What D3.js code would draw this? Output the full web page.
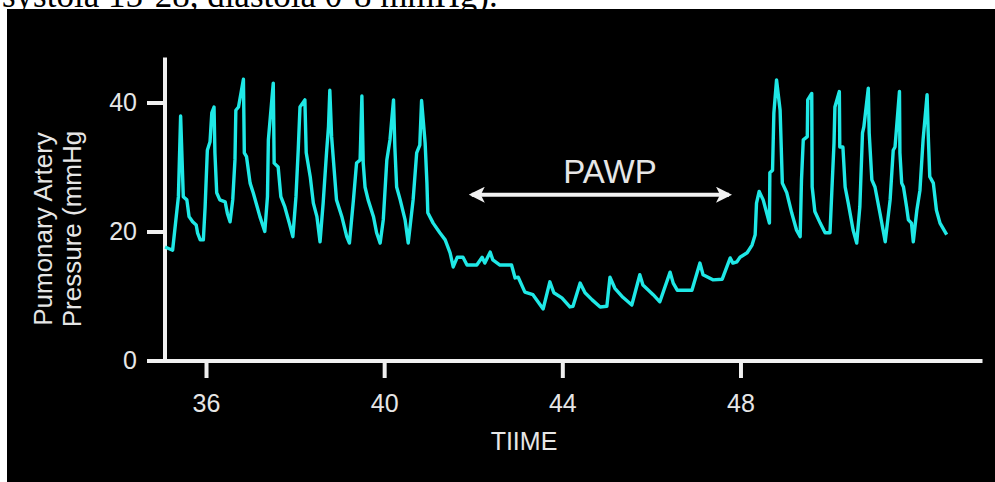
<!DOCTYPE html>
<html>
  <head>
    <meta charset="utf-8">
    <title>Pulmonary artery pressure</title>
    <script src="https://d3js.org/d3.v7.min.js"></script>
    <style>
      body { margin: 0; background: #fff; }
      svg { display: block; }
      .lbl { font-family: "Liberation Sans", Arial, sans-serif; fill: #e6e6e6; }
      .caption { font-family: "Liberation Serif", "Times New Roman", serif; fill: #000; }
      .axis path, .axis line { stroke: #f0f0f0; stroke-width: 4; }
      .axis text { font-family: "Liberation Sans", Arial, sans-serif; fill: #e6e6e6; font-size: 25px; }
    </style>
  </head>
  <body>
    <svg id="chart" width="995" height="482"></svg>
    <script>
      // trace (time, mmHg)
      time = [35.08, 35.25, 35.38, 35.43, 35.49, 35.57, 35.62, 35.70, 35.78, 35.81, 35.87, 35.94,
        35.98, 36.03, 36.09, 36.13, 36.18, 36.20, 36.24, 36.31, 36.43, 36.48, 36.54,
        36.60, 36.65, 36.67, 36.73, 36.84, 36.86, 36.91, 36.99, 37.06, 37.15, 37.21, 37.32,
        37.38, 37.40, 37.51, 37.53, 37.62, 37.68, 37.77, 37.87, 37.95,
        38.02, 38.07, 38.11, 38.22, 38.25, 38.34, 38.41, 38.49, 38.56,
        38.63, 38.71, 38.75, 38.78, 38.82, 38.86, 38.93, 39.05, 39.16, 39.22,
        39.31, 39.38, 39.46, 39.50, 39.53, 39.57, 39.64, 39.76, 39.83, 39.91,
        39.98, 40.06, 40.13, 40.21, 40.24, 40.28, 40.36, 40.47, 40.54,
        40.65, 40.73, 40.80, 40.84, 40.92, 40.96, 40.98, 41.10, 41.25, 41.37, 41.48,
        41.55, 41.64, 41.77, 41.86, 42.08, 42.20, 42.26, 42.38, 42.44, 42.60, 42.86,
        42.94, 43.01, 43.16, 43.34, 43.57, 43.72, 43.81, 43.99, 44.17, 44.24,
        44.40, 44.51, 44.67, 44.85, 45.00, 45.07, 45.18, 45.36, 45.56,
        45.74, 45.81, 46.04, 46.19, 46.42, 46.49, 46.58, 46.91, 47.09, 47.16, 47.38, 47.59,
        47.77, 47.83, 47.92, 47.99, 48.15, 48.26, 48.33, 48.36, 48.42, 48.51, 48.65,
        48.66, 48.72, 48.75, 48.81, 48.89, 48.94, 49.04, 49.15, 49.26, 49.34,
        49.37, 49.41, 49.50, 49.51, 49.60, 49.61, 49.67, 49.79, 49.90, 50.01,
        50.05, 50.10, 50.12, 50.22, 50.23, 50.30, 50.35, 50.42, 50.53, 50.61,
        50.68, 50.74, 50.77, 50.87, 50.89, 50.95, 51.02, 51.13, 51.25,
        51.36, 51.43, 51.47, 51.57, 51.58, 51.62, 51.66, 51.73, 51.77, 51.84, 51.88,
        51.96, 52.03, 52.10, 52.19, 52.22, 52.25, 52.33, 52.40, 52.48, 52.63];
      pressure = [17.6, 17.1, 25.4, 37.9, 25.4, 24.9, 22.3, 21.5, 21.0, 19.8, 18.7, 18.7,
        23.8, 32.6, 33.9, 38.4, 39.3, 32.2, 26.0, 24.9, 24.6, 22.8, 21.5,
        24.9, 31.1, 38.8, 39.3, 43.6, 32.2, 31.6, 27.5, 26.0, 23.8, 22.3, 20.0,
        25.4, 34.2, 43.0, 30.6, 30.0, 25.4, 23.8, 21.3, 19.2,
        25.4, 32.6, 39.3, 40.4, 32.2, 28.5, 24.4, 22.3, 18.4,
        24.4, 32.6, 36.2, 41.9, 34.7, 31.1, 24.9, 22.3, 19.2, 18.2,
        24.9, 30.6, 31.1, 41.0, 30.6, 26.9, 24.9, 22.3, 19.8, 18.2,
        21.8, 31.1, 34.2, 40.4, 33.1, 26.9, 24.9, 21.8, 18.2,
        24.9, 32.2, 33.4, 40.3, 33.7, 27.5, 22.9, 21.3, 19.8, 18.7, 16.7,
        14.5, 16.0, 16.0, 14.8, 14.8, 16.0, 15.1, 16.8, 15.6, 14.8, 14.8,
        12.8, 12.9, 10.6, 10.2, 8.0, 12.2, 10.5, 9.7, 8.3, 8.4,
        12.0, 10.5, 9.4, 8.3, 8.4, 12.9, 11.2, 9.8, 8.6,
        13.3, 11.7, 10.2, 9.1, 13.7, 12.0, 10.9, 10.9, 15.1, 13.3, 12.5, 12.6,
        15.9, 15.1, 15.3, 16.0, 16.7, 17.9, 19.5, 24.4, 26.2, 24.9, 21.3,
        29.1, 29.5, 38.4, 43.5, 38.8, 27.5, 26.0, 22.9, 20.2, 19.2,
        28.0, 34.2, 34.7, 40.4, 41.4, 26.9, 23.1, 21.3, 19.8, 19.8,
        26.0, 33.7, 39.3, 41.7, 33.1, 33.1, 26.9, 24.4, 20.2, 18.2,
        23.8, 35.3, 36.2, 42.2, 35.3, 28.0, 26.9, 22.9, 18.4,
        24.9, 32.6, 33.1, 41.7, 32.2, 27.5, 26.9, 23.8, 21.8, 21.3, 18.4,
        23.3, 26.4, 34.2, 41.2, 34.2, 28.5, 27.5, 23.3, 21.3, 19.5];
      xTicks = [36, 40, 44, 48];
      yTicks = [0, 20, 40];
      yTitle = ["Pumonary Artery", "Pressure (mmHg"];
      xTitle = "TIIME";
      pawpLabel = "PAWP";
      pawpSpan = [41.9, 47.81];
      pawpLevel = 25.7;
      caption = "systola 15-28, diastola 0-8 mmHg).";

      svg = d3.select("#chart");
      // page caption cut off at the top, then the black panel
      svg.append("text")
        .classed("caption", true)
        .attr("x", 2)
        .attr("y", 6.5)
        .style("font-size", "35px")
        .text(caption);
      svg.append("rect")
        .attr("x", 7)
        .attr("y", 9)
        .attr("width", 988)
        .attr("height", 473)
        .attr("fill", "#000");

      x = d3.scaleLinear()
        .domain([35.068, 53.378])
        .range([164.5, 980]);
      y = d3.scaleLinear()
        .domain([0, 46.74])
        .range([360.5, 59]);

      xAxis = svg.append("g")
        .classed("axis", true)
        .attr("transform", "translate(0," + y(0) + ")")
        .call(d3.axisBottom(x).tickValues(xTicks).tickSize(17.5).tickSizeOuter(0).tickPadding(16));
      yAxis = svg.append("g")
        .classed("axis", true)
        .attr("transform", "translate(" + x.range()[0] + ",0)")
        .call(d3.axisLeft(y).tickValues(yTicks).tickSize(17.5).tickSizeOuter(0).tickPadding(10));
      svg.selectAll(".axis path").attr("stroke-linecap", "square");

      // axis titles
      yLabel = svg.append("text")
        .classed("lbl", true)
        .attr("transform", "translate(52,229) rotate(-90)")
        .attr("text-anchor", "middle")
        .style("font-size", "26px");
      yLabel.selectAll("tspan")
        .data(yTitle)
        .enter().append("tspan")
          .attr("x", 0)
          .attr("dy", function(d, i) { return i ? 29 : 0; })
          .text(function(d) { return d; });
      svg.append("text")
        .classed("lbl", true)
        .attr("x", 524)
        .attr("y", 450)
        .attr("text-anchor", "middle")
        .style("font-size", "25px")
        .text(xTitle);

      // pressure trace
      points = time.map(function(t, i) { return [t, pressure[i]]; });
      line = d3.line()
        .x(function(d) { return x(d[0]); })
        .y(function(d) { return y(d[1]); });
      svg.append("path")
        .datum(points)
        .attr("d", line)
        .attr("fill", "none")
        .attr("stroke", "#1fe8e6")
        .attr("stroke-width", 3.4)
        .attr("stroke-linejoin", "round");

      // wedge pressure annotation
      defs = svg.append("defs");
      defs.append("marker")
        .attr("id", "head")
        .attr("viewBox", "0 0 16 16")
        .attr("refX", 13)
        .attr("refY", 8)
        .attr("markerUnits", "userSpaceOnUse")
        .attr("markerWidth", 16)
        .attr("markerHeight", 16)
        .attr("orient", "auto-start-reverse")
        .append("path")
          .attr("d", "M0,0 L16,8 L0,16 L4,8 Z")
          .attr("fill", "#f2f2f2");
      svg.append("line")
        .attr("x1", x(pawpSpan[0]) + 3)
        .attr("x2", x(pawpSpan[1]) - 3)
        .attr("y1", y(pawpLevel))
        .attr("y2", y(pawpLevel))
        .attr("stroke", "#f2f2f2")
        .attr("stroke-width", 4)
        .attr("marker-start", "url(#head)")
        .attr("marker-end", "url(#head)");
      svg.append("text")
        .classed("lbl", true)
        .attr("x", x(45.07))
        .attr("y", y(27.5))
        .attr("text-anchor", "middle")
        .style("font-size", "33px")
        .text(pawpLabel);
    </script>
  </body>
</html>
